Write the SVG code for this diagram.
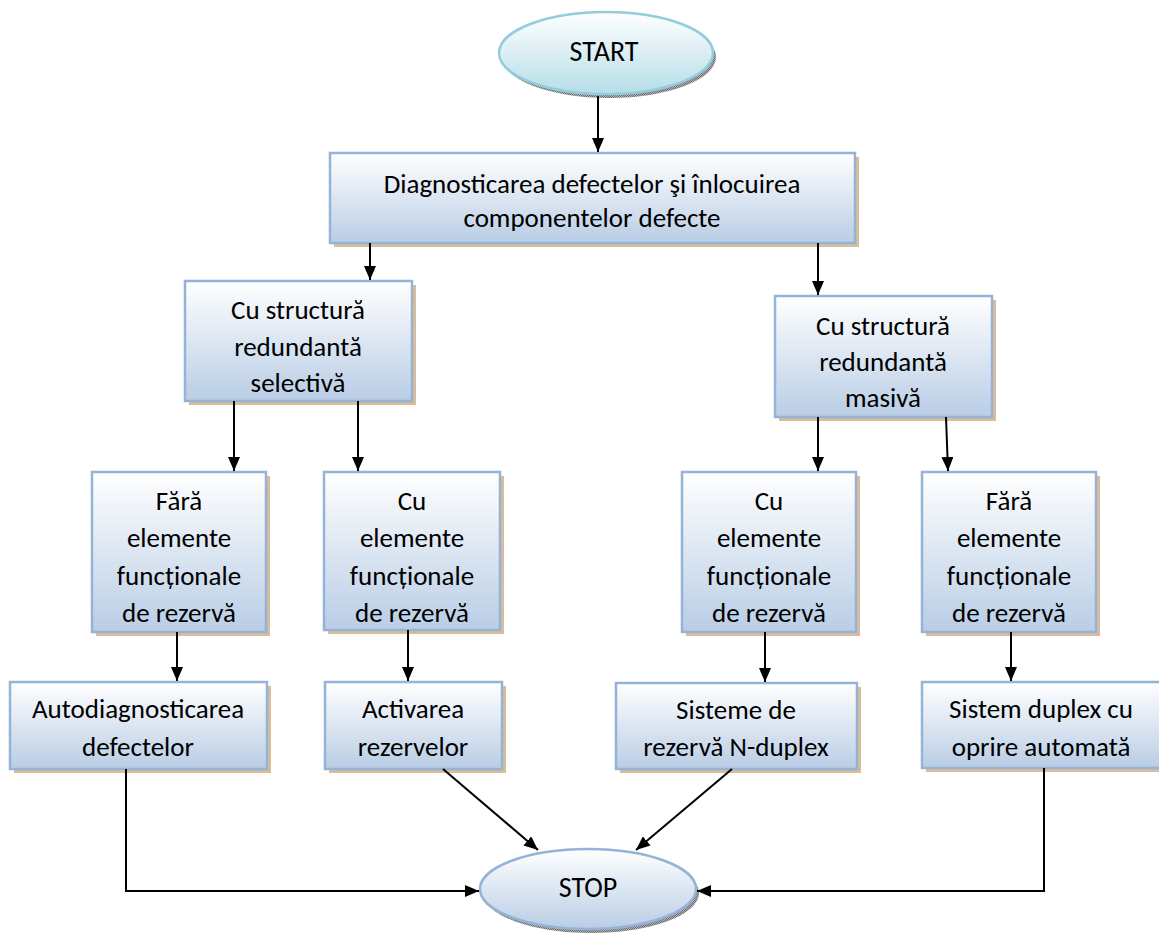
<svg xmlns="http://www.w3.org/2000/svg" width="1159" height="939" viewBox="0 0 1159 939">
  <defs>
    <linearGradient id="boxFill" x1="0" y1="0" x2="0" y2="1">
      <stop offset="0" stop-color="#ffffff"/>
      <stop offset="1" stop-color="#b9cde5"/>
    </linearGradient>
    <linearGradient id="startFill" x1="0" y1="0" x2="0" y2="1">
      <stop offset="0" stop-color="#ffffff"/>
      <stop offset="1" stop-color="#b6dde8"/>
    </linearGradient>
    <pattern id="hatch" width="2" height="2" patternUnits="userSpaceOnUse">
      <rect width="2" height="2" fill="#b0b0b0"/>
      <rect width="1" height="1" fill="#6f6f6f"/>
      <rect x="1" y="1" width="1" height="1" fill="#6f6f6f"/>
    </pattern>
    <marker id="arrow" viewBox="0 0 14 12" refX="14" refY="6" markerWidth="14" markerHeight="12" markerUnits="userSpaceOnUse" orient="auto">
      <path d="M0,0 L14,6 L0,12 Z" fill="#000"/>
    </marker>
    <clipPath id="clipMasiva">
      <rect x="775" y="296" width="217" height="112"/>
    </clipPath>
  </defs>
  <style>
    .box { fill: url(#boxFill); stroke: #95b3d7; stroke-width: 2.5; }
    .shadow { fill: #d9bc98; }
    .eshadow { fill: url(#hatch); }
    .start { fill: url(#startFill); stroke: #93cddd; stroke-width: 2.5; }
    .stop { fill: url(#boxFill); stroke: #95b3d7; stroke-width: 2.5; }
    .label { font-family: Carlito, "Liberation Sans Narrow", "Liberation Sans", sans-serif; font-size: 27px; fill: #000; text-anchor: middle; dominant-baseline: central; }
    .big { font-size: 28px; }
    .conn { fill: none; stroke: #000; stroke-width: 2; marker-end: url(#arrow); }
  </style>
  <rect width="1159" height="939" fill="#ffffff"/>

  <g id="start">
    <ellipse class="eshadow" cx="609" cy="57" rx="107" ry="41"/>
    <ellipse class="start" cx="606" cy="53" rx="107" ry="41"/>
    <text class="label big" x="604" y="51">START</text>
  </g>

  <g id="diagnosticare">
    <rect class="shadow" x="334" y="157" width="525" height="90"/>
    <rect class="box" x="330" y="153" width="525" height="90"/>
    <text class="label" x="592" y="183">Diagnosticarea defectelor şi înlocuirea</text>
    <text class="label" x="592" y="217">componentelor defecte</text>
  </g>

  <g id="redundanta-selectiva">
    <rect class="shadow" x="189" y="285" width="227" height="120"/>
    <rect class="box" x="185" y="281" width="227" height="120"/>
    <text class="label" x="298" y="309">Cu structură</text>
    <text class="label" x="298" y="346">redundantă</text>
    <text class="label" x="298" y="382">selectivă</text>
  </g>

  <g id="redundanta-masiva">
    <rect class="shadow" x="779" y="300" width="217" height="121"/>
    <rect class="box" x="775" y="296" width="217" height="121"/>
    <text class="label" x="883" y="325">Cu structură</text>
    <text class="label" x="883" y="361">redundantă</text>
    <text class="label" x="883" y="397" clip-path="url(#clipMasiva)">masivă</text>
  </g>

  <g id="fara-rezerva-stanga">
    <rect class="shadow" x="96" y="476" width="174" height="160"/>
    <rect class="box" x="92" y="472" width="174" height="160"/>
    <text class="label" x="179" y="500">Fără</text>
    <text class="label" x="179" y="537">elemente</text>
    <text class="label" x="179" y="575">funcționale</text>
    <text class="label" x="179" y="612">de rezervă</text>
  </g>

  <g id="cu-rezerva-stanga">
    <rect class="shadow" x="328" y="476" width="176" height="158"/>
    <rect class="box" x="324" y="472" width="176" height="158"/>
    <text class="label" x="412" y="500">Cu</text>
    <text class="label" x="412" y="537">elemente</text>
    <text class="label" x="412" y="575">funcționale</text>
    <text class="label" x="412" y="612">de rezervă</text>
  </g>

  <g id="cu-rezerva-dreapta">
    <rect class="shadow" x="686" y="476" width="174" height="160"/>
    <rect class="box" x="682" y="472" width="174" height="160"/>
    <text class="label" x="769" y="500">Cu</text>
    <text class="label" x="769" y="537">elemente</text>
    <text class="label" x="769" y="575">funcționale</text>
    <text class="label" x="769" y="612">de rezervă</text>
  </g>

  <g id="fara-rezerva-dreapta">
    <rect class="shadow" x="926" y="476" width="174" height="160"/>
    <rect class="box" x="922" y="472" width="174" height="160"/>
    <text class="label" x="1009" y="500">Fără</text>
    <text class="label" x="1009" y="537">elemente</text>
    <text class="label" x="1009" y="575">funcționale</text>
    <text class="label" x="1009" y="612">de rezervă</text>
  </g>

  <g id="autodiagnosticare">
    <rect class="shadow" x="14" y="686" width="257" height="87"/>
    <rect class="box" x="10" y="682" width="257" height="87"/>
    <text class="label" x="138" y="708">Autodiagnosticarea</text>
    <text class="label" x="138" y="746">defectelor</text>
  </g>

  <g id="activare">
    <rect class="shadow" x="329" y="686" width="177" height="87"/>
    <rect class="box" x="325" y="682" width="177" height="87"/>
    <text class="label" x="413" y="708">Activarea</text>
    <text class="label" x="413" y="746">rezervelor</text>
  </g>

  <g id="n-duplex">
    <rect class="shadow" x="620" y="687" width="241" height="86"/>
    <rect class="box" x="616" y="683" width="241" height="86"/>
    <text class="label" x="736" y="709">Sisteme de</text>
    <text class="label" x="736" y="746">rezervă N-duplex</text>
  </g>

  <g id="duplex-oprire">
    <rect class="shadow" x="926" y="686" width="240" height="86"/>
    <rect class="box" x="922" y="682" width="240" height="86"/>
    <text class="label" x="1041" y="708">Sistem duplex cu</text>
    <text class="label" x="1041" y="746">oprire automată</text>
  </g>

  <g id="stop">
    <ellipse class="eshadow" cx="591" cy="893" rx="108" ry="40"/>
    <ellipse class="stop" cx="588" cy="889" rx="108" ry="40"/>
    <text class="label big" x="588" y="887">STOP</text>
  </g>

  <g id="connectors">
    <path class="conn" d="M598,96 V152"/>
    <path class="conn" d="M370,243 V280"/>
    <path class="conn" d="M818,243 V295"/>
    <path class="conn" d="M234,401 V471"/>
    <path class="conn" d="M358,401 V471"/>
    <path class="conn" d="M818,417 V471"/>
    <path class="conn" d="M946,417 L948,471"/>
    <path class="conn" d="M177,632 V681"/>
    <path class="conn" d="M408,630 V681"/>
    <path class="conn" d="M765,632 V682"/>
    <path class="conn" d="M1011,632 V681"/>
    <path class="conn" d="M126,769 V891 H479"/>
    <path class="conn" d="M443,769 L538,850"/>
    <path class="conn" d="M732,769 L636,850"/>
    <path class="conn" d="M1044,768 V891 H697"/>
  </g>
</svg>
